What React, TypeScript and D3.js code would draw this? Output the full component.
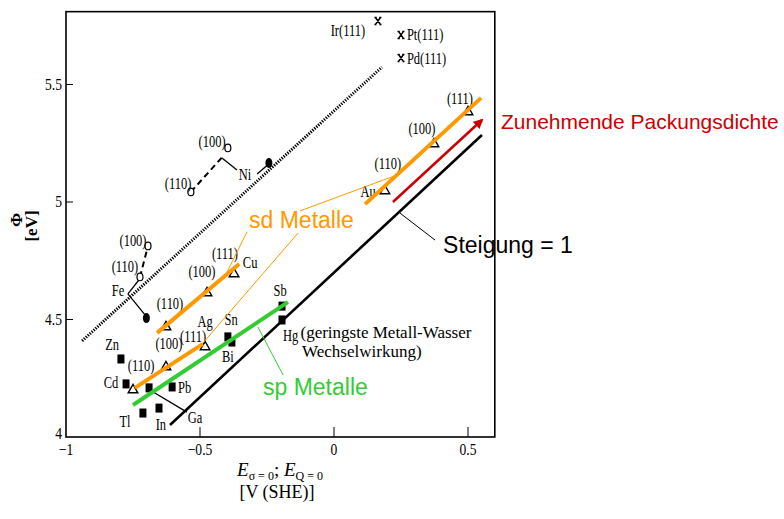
import React from "react";
import * as d3 from "d3";

// axis ticks
const xTicks = [-1, -0.5, 0, 0.5];
const xTickLabels = ["\u22121", "\u22120.5", "0", "0.5"];
const yTicks = [4, 4.5, 5, 5.5];
const yTickLabels = ["4", "4.5", "5", "5.5"];

// sd metals, open triangles (110), (100), (111)
const cuE = [-0.627, -0.474, -0.373];
const cuPhi = [4.468, 4.613, 4.694];
const agE = [-0.75, -0.627, -0.481];
const agPhi = [4.2, 4.298, 4.383];
const auE = [0.19, 0.373, 0.5];
const auPhi = [5.047, 5.247, 5.383];

// orange fit lines through the sd faces
const cuFit = [[-0.66, 4.443], [-0.354, 4.736]];
const agFit = [[-0.743, 4.209], [-0.489, 4.396]];
const auFit = [[0.116, 4.991], [0.549, 5.443]];
// green sp line, black slope-1 line, red arrow, dotted transition-metal line
const spFit = [[-0.75, 4.136], [-0.172, 4.574]];
const slopeOne = [[-0.612, 4.051], [0.552, 5.285]];
const packArrow = [[0.22, 5.0], [0.552, 5.349]];
const dottedLine = [[-0.94, 4.409], [0.179, 5.574]];

// sp metals, filled squares
const spNames = ["Zn", "Cd", "Tl", "In", "Ga", "Pb", "Sn", "Bi", "Sb", "Hg"];
const spE = [-0.795, -0.776, -0.713, -0.653, -0.69, -0.604, -0.396, -0.381, -0.194, -0.194];
const spPhi = [4.332, 4.226, 4.102, 4.123, 4.209, 4.213, 4.426, 4.404, 4.557, 4.498];

// Fe and Ni: open circles (110), (100) and filled polycrystal
const feOpenE = [-0.724, -0.694];
const feOpenPhi = [4.681, 4.813];
const feFilled = [-0.7, 4.506];
const niOpenE = [-0.534, -0.396];
const niOpenPhi = [5.043, 5.23];
const niFilled = [-0.243, 5.166];

// Ir, Pt, Pd (111) stars
const starE = [0.164, 0.25, 0.25];
const starPhi = [5.77, 5.711, 5.613];

// connector lines [[e1, phi1], [e2, phi2]]
const dashedLinks = [
  [[-0.724, 4.681], [-0.694, 4.813]],
  [[-0.534, 5.043], [-0.41, 5.2]],
];
const solidLinks = [
  [[-0.769, 4.609], [-0.728, 4.668]],
  [[-0.769, 4.609], [-0.705, 4.52]],
  [[-0.418, 5.187], [-0.362, 5.136]],
  [[-0.287, 5.119], [-0.25, 5.155]],
  [[-0.687, 4.2], [-0.549, 4.106]],
];
const sdLeaders = [
  [[-0.325, 4.872], [-0.399, 4.702]],
  [[-0.134, 4.868], [-0.489, 4.4]],
  [[-0.127, 4.962], [0.235, 5.115]],
];
const spLeader = [[-0.19, 4.264], [-0.284, 4.468]];
const slopeLeader = [[0.377, 4.838], [0.246, 4.953]];

// small serif labels: text, e, phi (baseline), anchor
const smallLabels = [
  ["(100)", -0.75, 4.813, "middle"],
  ["(110)", -0.78, 4.702, "middle"],
  ["Fe", -0.806, 4.6, "middle"],
  ["(110)", -0.612, 4.545, "middle"],
  ["(100)", -0.493, 4.681, "middle"],
  ["(111)", -0.407, 4.757, "middle"],
  ["Cu", -0.313, 4.719, "middle"],
  ["(110)", -0.72, 4.281, "middle"],
  ["(100)", -0.616, 4.374, "middle"],
  ["(111)", -0.526, 4.404, "middle"],
  ["Ag", -0.481, 4.468, "middle"],
  ["Sn", -0.384, 4.477, "middle"],
  ["Bi", -0.396, 4.319, "middle"],
  ["Sb", -0.201, 4.6, "middle"],
  ["Hg", -0.19, 4.41, "start"],
  ["Pb", -0.582, 4.187, "start"],
  ["Cd", -0.832, 4.209, "middle"],
  ["Zn", -0.828, 4.37, "middle"],
  ["Tl", -0.78, 4.043, "middle"],
  ["In", -0.646, 4.03, "middle"],
  ["Ga", -0.519, 4.06, "middle"],
  ["(100)", -0.455, 5.234, "middle"],
  ["(110)", -0.582, 5.055, "middle"],
  ["Ni", -0.332, 5.094, "middle"],
  ["Au", 0.127, 5.021, "middle"],
  ["(110)", 0.201, 5.14, "middle"],
  ["(100)", 0.328, 5.289, "middle"],
  ["(111)", 0.47, 5.417, "middle"],
  ["Ir(111)", 0.116, 5.706, "end"],
  ["Pt(111)", 0.272, 5.689, "start"],
  ["Pd(111)", 0.272, 5.587, "start"],
];
const noteLines = ["(geringste Metall-Wasser", "Wechselwirkung)"];
const noteE = [-0.125, -0.119];
const notePhi = [4.423, 4.34];

const W = 784;
const H = 519;
const ORANGE = "#ff9900";
const GREEN = "#33cc33";
const RED = "#cc0000";
const SERIF = "'Liberation Serif', 'Times New Roman', serif";
const SANS = "'Liberation Sans', Arial, sans-serif";

export default function App() {
  const x = d3.scaleLinear().domain([-1, 0.6]).range([66, 494.8]);
  const y = d3.scaleLinear().domain([4, 5.81]).range([437, 11.65]);
  const line = d3
    .line<number[]>()
    .x((d) => x(d[0]))
    .y((d) => y(d[1]));

  const tri = d3.symbol(d3.symbolTriangle, 40)();
  const star =
    "M-2.5,-3.5L2.5,3.5M2.5,-3.5L-2.5,3.5M-3.5,-3.5H-1.2M1.2,-3.5H3.5M-3.5,3.5H-1.2M1.2,3.5H3.5";

  const triangles = [
    ...cuE.map((e, i) => [e, cuPhi[i]]),
    ...agE.map((e, i) => [e, agPhi[i]]),
    ...auE.map((e, i) => [e, auPhi[i]]),
  ];

  return (
    <svg
      width={W}
      height={H}
      style={{ position: "absolute", left: 0, top: 0, background: "#fff" }}
    >
      <defs>
        <marker
          id="redhead"
          viewBox="0 0 10 10"
          refX="8"
          refY="5"
          markerWidth="4"
          markerHeight="4"
          orient="auto"
        >
          <path d="M0,0L10,5L0,10z" fill={RED} />
        </marker>
      </defs>

      {/* frame */}
      <rect
        x={x(-1)}
        y={y(5.81)}
        width={x(0.6) - x(-1)}
        height={y(4) - y(5.81)}
        fill="none"
        stroke="#000"
        strokeWidth={1.6}
      />

      {/* ticks */}
      {xTicks.map((t, i) => (
        <g key={"xt" + i}>
          {i > 0 && (
            <line x1={x(t)} x2={x(t)} y1={y(4)} y2={y(4) - 10} stroke="#000" strokeWidth={1} />
          )}
          <text
            transform={`translate(${x(t)},${y(4) + 18}) scale(0.8,1)`}
            textAnchor="middle"
            fontFamily={SERIF}
            fontSize={17}
            fill="#000"
          >
            {xTickLabels[i]}
          </text>
        </g>
      ))}
      {yTicks.map((t, i) => (
        <g key={"yt" + i}>
          {i > 0 && (
            <line x1={x(-1)} x2={x(-1) + 7} y1={y(t)} y2={y(t)} stroke="#000" strokeWidth={1} />
          )}
          <text
            transform={`translate(${x(-1) - 4},${y(t) + (i === 0 ? 2 : 5)}) scale(0.8,1)`}
            textAnchor="end"
            fontFamily={SERIF}
            fontSize={17}
            fill="#000"
          >
            {yTickLabels[i]}
          </text>
        </g>
      ))}

      {/* axis titles */}
      <text
        transform="translate(22,220) rotate(-90)"
        textAnchor="middle"
        fontFamily={SERIF}
        fontWeight="bold"
        fontSize={17}
        fill="#000"
      >
        Φ
      </text>
      <text
        transform="translate(37,226) rotate(-90)"
        textAnchor="middle"
        fontFamily={SERIF}
        fontWeight="bold"
        fontSize={17}
        fill="#000"
      >
        [eV]
      </text>
      <text x={280} y={476} textAnchor="middle" fontFamily={SERIF} fontSize={19} fill="#000">
        <tspan fontStyle="italic">E</tspan>
        <tspan fontSize={12} dy={4}>
          σ = 0
        </tspan>
        <tspan dy={-4}>; </tspan>
        <tspan fontStyle="italic">E</tspan>
        <tspan fontSize={12} dy={4}>
          Q = 0
        </tspan>
      </text>
      <text x={277} y={498} textAnchor="middle" fontFamily={SERIF} fontSize={18} fill="#000">
        [V (SHE)]
      </text>

      {/* dotted transition-metal line */}
      <path
        d={line(dottedLine) || ""}
        stroke="#000"
        strokeWidth={3}
        strokeDasharray="1.3,1.3"
        fill="none"
      />

      {/* slope = 1 line */}
      <path d={line(slopeOne) || ""} stroke="#000" strokeWidth={2.6} fill="none" />

      {/* connectors */}
      {dashedLinks.map((l, i) => (
        <path
          key={"dl" + i}
          d={line(l) || ""}
          stroke="#000"
          strokeWidth={2}
          strokeDasharray="6,4"
          fill="none"
        />
      ))}
      {solidLinks.map((l, i) => (
        <path key={"sl" + i} d={line(l) || ""} stroke="#000" strokeWidth={1.3} fill="none" />
      ))}

      {/* sp squares */}
      {spE.map((e, i) => (
        <rect
          key={"sq" + spNames[i]}
          x={x(e) - 3.5}
          y={y(spPhi[i]) - 4.5}
          width={7}
          height={9}
          fill="#000"
        />
      ))}

      {/* open triangles */}
      {triangles.map((d, i) => (
        <path
          key={"tr" + i}
          d={tri || ""}
          transform={`translate(${x(d[0])},${y(d[1])})`}
          fill="none"
          stroke="#000"
          strokeWidth={1.4}
        />
      ))}

      {/* Fe, Ni circles */}
      {feOpenE.map((e, i) => (
        <ellipse key={"fo" + i} cx={x(e)} cy={y(feOpenPhi[i])} rx={3} ry={3.8} fill="#fff" stroke="#000" strokeWidth={1.2} />
      ))}
      {niOpenE.map((e, i) => (
        <ellipse key={"no" + i} cx={x(e)} cy={y(niOpenPhi[i])} rx={3} ry={3.8} fill="#fff" stroke="#000" strokeWidth={1.2} />
      ))}
      <ellipse cx={x(feFilled[0])} cy={y(feFilled[1])} rx={3.5} ry={5} fill="#000" />
      <ellipse cx={x(niFilled[0])} cy={y(niFilled[1])} rx={3.5} ry={5} fill="#000" />

      {/* stars */}
      {starE.map((e, i) => (
        <path
          key={"st" + i}
          d={star}
          transform={`translate(${x(e)},${y(starPhi[i])})`}
          stroke="#000"
          strokeWidth={1.5}
          fill="none"
        />
      ))}

      {/* small labels */}
      {smallLabels.map((l, i) => (
        <text
          key={"lb" + i}
          transform={`translate(${x(l[1] as number)},${y(l[2] as number)}) scale(0.78,1)`}
          textAnchor={l[3] as string}
          fontFamily={SERIF}
          fontSize={16}
          fill="#000"
        >
          {l[0]}
        </text>
      ))}
      {noteLines.map((t, i) => (
        <text
          key={"nt" + i}
          x={x(noteE[i])}
          y={y(notePhi[i])}
          fontFamily={SERIF}
          fontSize={17}
          fill="#000"
        >
          {t}
        </text>
      ))}

      {/* coloured overlays */}
      {[cuFit, agFit, auFit].map((f, i) => (
        <path key={"of" + i} d={line(f) || ""} stroke={ORANGE} strokeWidth={4} fill="none" />
      ))}
      {sdLeaders.map((l, i) => (
        <path key={"ol" + i} d={line(l) || ""} stroke={ORANGE} strokeWidth={1} fill="none" />
      ))}
      <path d={line(spFit) || ""} stroke={GREEN} strokeWidth={4} fill="none" />
      <path d={line(spLeader) || ""} stroke={GREEN} strokeWidth={1} fill="none" />
      <path d={line(slopeLeader) || ""} stroke="#000" strokeWidth={1} fill="none" />
      <path
        d={line(packArrow) || ""}
        stroke={RED}
        strokeWidth={2.5}
        fill="none"
        markerEnd="url(#redhead)"
      />

      <text x={x(-0.317)} y={y(4.889)} fontFamily={SANS} fontSize={23} fill={ORANGE}>
        sd Metalle
      </text>
      <text x={x(-0.265)} y={y(4.179)} fontFamily={SANS} fontSize={23} fill={GREEN}>
        sp Metalle
      </text>
      <text x={x(0.407)} y={y(4.783)} fontFamily={SANS} fontSize={23} fill="#000">
        Steigung = 1
      </text>
      <text x={x(0.623)} y={y(5.311)} fontFamily={SANS} fontSize={21} fill={RED}>
        Zunehmende Packungsdichte
      </text>
    </svg>
  );
}
